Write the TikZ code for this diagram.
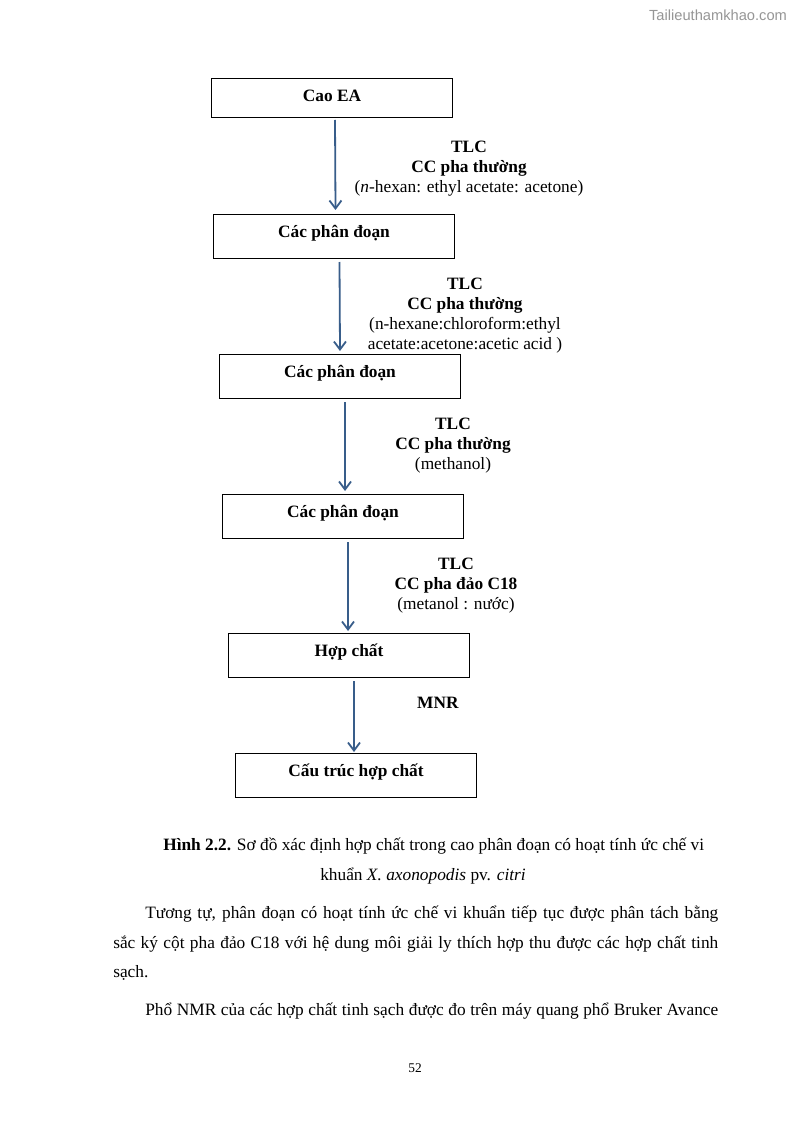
\documentclass[tikz,border=0pt]{standalone}
\usepackage{fontspec}
\setmainfont{Liberation Serif}
\setsansfont{Liberation Sans}
\usetikzlibrary{arrows.meta, positioning}
\definecolor{flowblue}{RGB}{56,93,138}
\definecolor{markgray}{RGB}{150,150,150}
\tikzset{
  stepbox/.style={rectangle, draw=black, line width=0.75pt, inner sep=0pt,
    anchor=north west, minimum width=180.75pt,
    text height=17.25pt, text depth=15.75pt,
    font=\fontsize{13}{15}\selectfont\bfseries},
  flow/.style={-{Straight Barb[length=6pt,width=9pt]}, line width=1.35pt, color=flowblue},
  method/.style={anchor=north, inner sep=0pt, align=center,
    font=\fontsize{13}{15}\selectfont},
  bodyline/.style={anchor=base west, inner sep=0pt, font=\fontsize{13}{15}\selectfont}
}

\begin{document}
\begin{tikzpicture}[x=0.75pt, y=-0.75pt]
  % Page
  \fill[white] (0,0) rectangle (794,1123);
  \node[anchor=center, inner sep=0pt, text=markgray,
    font=\sffamily\fontsize{11}{13}\selectfont] (wmark) at (718,15) {Tailieuthamkhao.com};

  % Steps
  \node[stepbox, text height=17.25pt, text depth=12pt] (ea) at (211,78) {Cao EA};
  \node[stepbox] (frac1) at (213,214) {Các phân đoạn};
  \node[stepbox] (frac2) at (219,354) {Các phân đoạn};
  \node[stepbox] (frac3) at (222,494) {Các phân đoạn};
  \node[stepbox] (cmpd) at (228,633) {Hợp chất};
  \node[stepbox] (struct) at (235,753) {Cấu trúc hợp chất};

  % Arrows
  \draw[flow] ([shift={(3,2)}]ea.south) -- ([shift={(1.5,-4)}]frac1.north);
  \draw[flow] ([shift={(5.5,3)}]frac1.south) -- ([shift={(0,-3)}]frac2.north);
  \draw[flow] ([shift={(5,3)}]frac2.south) -- ([shift={(2,-3)}]frac3.north);
  \draw[flow] ([shift={(5,3)}]frac3.south) -- ([shift={(-1,-2)}]cmpd.north);
  \draw[flow] ([shift={(5,3)}]cmpd.south) -- ([shift={(-2,-1)}]struct.north);

  % Methods
  \node[method] (m1) at (469,141) {\textbf{TLC}\\ \textbf{CC pha thường}\\
    (\textit{n}-hexan: ethyl acetate: acetone)};
  \node[method] (m2) at (465,278) {\textbf{TLC}\\ \textbf{CC pha thường}\\
    (n-hexane:chloroform:ethyl\\ acetate:acetone:acetic acid )};
  \node[method] (m3) at (453,418) {\textbf{TLC}\\ \textbf{CC pha thường}\\ (methanol)};
  \node[method] (m4) at (456,558) {\textbf{TLC}\\ \textbf{CC pha đảo C18}\\ (metanol : nước)};
  \node[method] (m5) at (438,697) {\textbf{MNR}};

  % Caption
  \node[bodyline] (cap1) at (163,850) {\textbf{Hình 2.2.} Sơ đồ xác định hợp chất trong cao phân đoạn có hoạt tính ức chế vi};
  \node[bodyline, anchor=base] (cap2) at (423,880) {khuẩn \textit{X. axonopodis} pv. \textit{citri}};

  % Body text
  \node[bodyline] (par1a) at (145,918) {\makebox[429.75pt][s]{Tương tự, phân đoạn có hoạt tính ức chế vi khuẩn tiếp tục được phân tách bằng}};
  \node[bodyline] (par1b) at (113,948) {\makebox[453.75pt][s]{sắc ký cột pha đảo C18 với hệ dung môi giải ly thích hợp thu được các hợp chất tinh}};
  \node[bodyline] (par1c) at (113,977) {sạch.};
  \node[bodyline] (par2a) at (145,1015) {\makebox[429.75pt][s]{Phổ NMR của các hợp chất tinh sạch được đo trên máy quang phổ Bruker Avance}};

  \node[inner sep=0pt, font=\fontsize{10}{12}\selectfont] (pageno) at (415,1068) {52};
\end{tikzpicture}
\end{document}
